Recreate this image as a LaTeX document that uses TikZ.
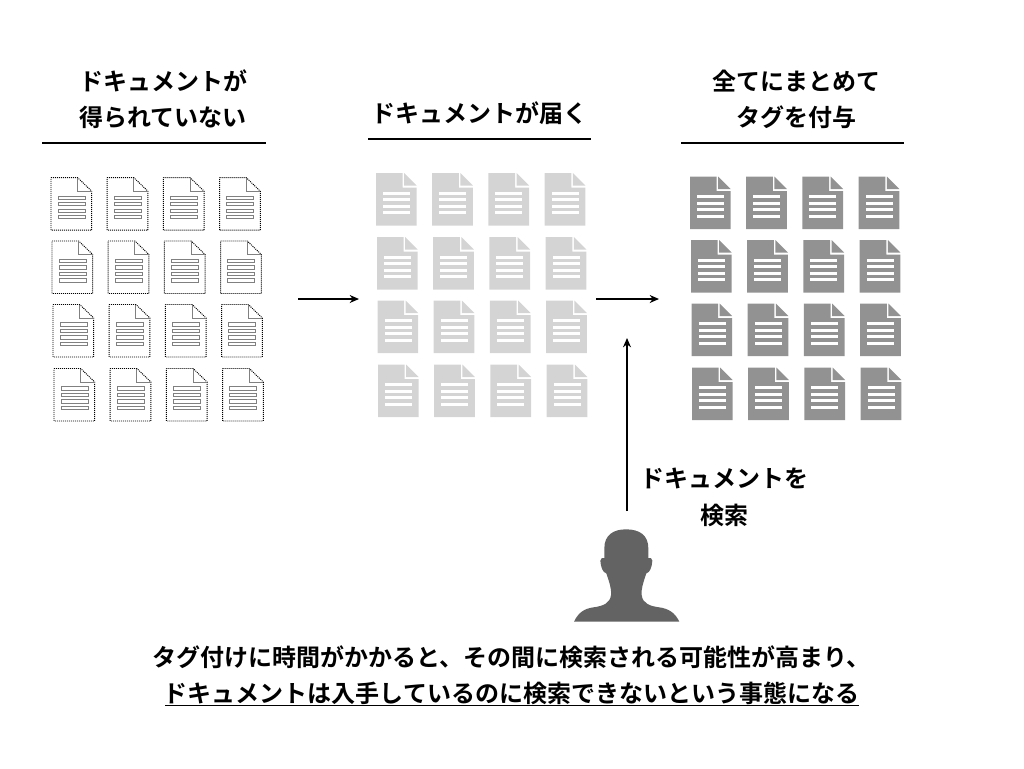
\documentclass[tikz,border=0pt]{standalone}
\usepackage{fontspec}
\setmainfont{Noto Sans CJK JP}[BoldFont={Noto Sans CJK JP Bold}]
\definecolor{midgray}{HTML}{D4D4D4}
\definecolor{darkdoc}{HTML}{929292}
\definecolor{person}{HTML}{636363}
\usetikzlibrary{arrows.meta}
\tikzset{
  lab/.style={font=\bfseries\fontsize{18pt}{20pt}\selectfont,inner sep=0pt,text=black},
  rulel/.style={line width=1.15pt,black},
  arr/.style={-{Stealth[length=7pt,width=6pt]},line width=1pt,black},
  dotl/.style={line width=.7pt,dash pattern=on .75pt off .75pt,black},
  dotf/.style={line width=.7pt,black!50},
}
\newcommand{\docdotted}[2]{%
  \begin{scope}[shift={(#1,#2)}]
    \draw[dotl] (0,0) -- (26.7,0) -- (40.7,13.5) -- (40.7,52.5) -- (0,52.5) -- cycle;
    \draw[dotf] (26.7,0) -- (26.7,13.5) -- (40.7,13.5);
    \foreach \yy in {20,26.5,33,39.5} \draw[dotf] (7,\yy-1.7) rectangle (34,\yy+1.7);
  \end{scope}}
\newcommand{\docfilled}[3]{%
  \begin{scope}[shift={(#1,#2)}]
    \fill[#3] (0,0) -- (26.7,0) -- (26.7,14.5) -- (40.7,14.5) -- (40.7,52.5) -- (0,52.5) -- cycle;
    \fill[#3] (28.2,0) -- (40.7,12.5) -- (28.2,12.5) -- cycle;
    \foreach \yy in {20.2,26.6,33.1,39.6} \fill[white] (7,\yy-1.5) rectangle (34,\yy+1.5);
  \end{scope}}
\begin{document}
\begin{tikzpicture}[x=0.75pt,y=-0.75pt]
\useasboundingbox (0,0) rectangle (1024,768);
% headings
\node[lab] (t1a) at (163,81) {ドキュメントが};
\node[lab] (t1b) at (163,117) {得られていない};
\node[lab] (t2) at (479,113) {ドキュメントが届く};
\node[lab] (t3a) at (796,81) {全てにまとめて};
\node[lab] (t3b) at (796.5,117) {タグを付与};
\draw[rulel] (42,143) -- (266,143);
\draw[rulel] (368,139) -- (591,139);
\draw[rulel] (681,143) -- (904,143);
% document grids
\foreach \r/\dx/\yy in {0/0/177.7,1/1/241,2/2/304.5,3/3/368.5}
  \foreach \c in {0,1,2,3} {
    \docdotted{51+\dx+56.2*\c}{\yy}
  }
\foreach \r/\dx/\yy in {0/0/173,1/1/237,2/1.5/300.5,3/2/364.5}
  \foreach \c in {0,1,2,3} {
    \docfilled{376+\dx+56.2*\c}{\yy}{midgray}
  }
\foreach \r/\dx/\yy in {0/0/176.5,1/1/240,2/1.5/303.5,3/2/367.5}
  \foreach \c in {0,1,2,3} {
    \docfilled{690+\dx+56.2*\c}{\yy}{darkdoc}
  }
% arrows
\coordinate (a1s) at (298,299); \coordinate (a1e) at (359,299);
\coordinate (a2s) at (596,299); \coordinate (a2e) at (659,299);
\coordinate (a3s) at (627,511); \coordinate (a3e) at (627,338);
\draw[arr] (a1s) -- (a1e);
\draw[arr] (a2s) -- (a2e);
\draw[arr] (a3s) -- (a3e);
% search label
\node[lab] (s1) at (724,478) {ドキュメントを};
\node[lab] (s2) at (724,515) {検索};
% person
\begin{scope}[shift={(560,520)},x=0.25pt,y=-0.25pt]
\fill[person] (42,305) .. controls (55,278) and (72,266) .. (100,262)
  .. controls (130,258) and (150,250) .. (153,225)
  .. controls (154,212) and (152,205) .. (150,195)
  .. controls (146,180) and (142,170) .. (139,160)
  .. controls (128,158) and (122,140) .. (121,122)
  .. controls (121,115) and (128,112) .. (133,114)
  -- (133,85)
  .. controls (133,45) and (160,28) .. (198,28)
  .. controls (238,28) and (265,45) .. (265,85)
  -- (265,114)
  .. controls (270,112) and (278,115) .. (277,122)
  .. controls (276,140) and (270,158) .. (259,160)
  .. controls (256,170) and (252,180) .. (248,195)
  .. controls (246,205) and (244,212) .. (245,225)
  .. controls (248,250) and (268,258) .. (298,262)
  .. controls (326,266) and (345,278) .. (358,305)
  -- cycle;
\end{scope}
% bottom text
\node[lab] (b1) at (511.5,657) {タグ付けに時間がかかると、その間に検索される可能性が高まり、};
\node[lab] (b2) at (511.5,693) {ドキュメントは入手しているのに検索できないという事態になる};
\draw[rulel] (165,705.5) -- (859,705.5);
\end{tikzpicture}
\end{document}
